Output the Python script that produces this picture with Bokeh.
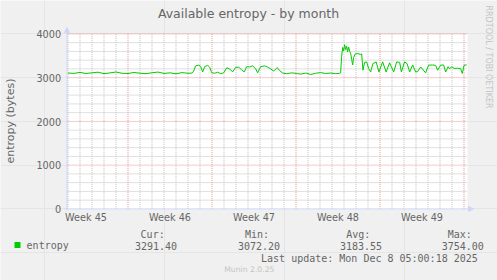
import math
from bokeh.plotting import figure
from bokeh.models import Range1d, Label, BoxAnnotation, Arrow, NormalHead
from bokeh.embed import file_html
from bokeh.resources import INLINE

# time axis: days since Monday 2025-11-03 00:00
days = [1.98, 2.5, 3.0, 3.5, 4.0, 4.5, 5.0, 5.5, 6.0, 6.5, 7.0, 7.5, 8.0, 8.5, 9.0, 9.5,
        10.0, 10.5, 11.0, 11.5, 12.0, 12.35,
        12.47, 12.64, 12.89, 13.05, 13.22, 13.39, 13.64, 13.80, 13.97, 14.22, 14.47, 14.72,
        14.97, 15.22, 15.47, 15.72, 15.97, 16.22, 16.47, 16.68, 16.89, 17.14, 17.39, 17.64,
        17.80, 18.05, 18.39, 18.64, 18.89, 19.14, 19.43, 19.64, 19.89,
        20.22, 20.64, 21.05, 21.39, 21.80, 22.22, 22.64, 23.05, 23.47, 23.89, 24.30, 24.64,
        24.72, 24.80, 24.89, 24.97, 25.05, 25.14, 25.22, 25.30, 25.39, 25.47, 25.55, 25.64,
        25.72, 25.80, 25.93, 26.14, 26.39, 26.47, 26.58,
        26.72, 26.89, 27.05, 27.22, 27.41, 27.68, 27.91, 28.22, 28.51, 28.80, 29.14, 29.39,
        29.64, 29.78, 30.05, 30.26, 30.47, 30.72, 30.97, 31.14, 31.39, 31.80, 32.05, 32.39,
        32.64, 32.80, 33.05, 33.30, 33.47, 33.68, 33.80, 33.97, 34.18, 34.47, 34.72, 34.86,
        35.01, 35.22]
entropy = [3105, 3098, 3120, 3095, 3110, 3125, 3092, 3108, 3130, 3100, 3095, 3118, 3102, 3090, 3112, 3128,
           3096, 3110, 3088, 3115, 3100, 3105,
           3150, 3270, 3285, 3260, 3130, 3250, 3280, 3240, 3115, 3100, 3125, 3090,
           3110, 3225, 3200, 3130, 3235, 3240, 3180, 3130, 3250, 3245, 3270, 3200,
           3110, 3250, 3270, 3240, 3200, 3150, 3230, 3160, 3105,
           3090, 3110, 3095, 3080, 3105, 3072.2, 3100, 3115, 3095, 3105, 3090, 3100,
           3110, 3480, 3690, 3610, 3754, 3640, 3720, 3590, 3700, 3600, 3560, 3420,
           3290, 3460, 3540, 3550, 3530, 3545, 3170,
           3350, 3360, 3210, 3130, 3320, 3360, 3130, 3360, 3130, 3340, 3130, 3360,
           3350, 3130, 3360, 3320, 3130, 3290, 3130, 3140, 3245, 3110, 3285, 3290,
           3280, 3170, 3285, 3290, 3130, 3250, 3200, 3250, 3210, 3215, 3205, 3095,
           3285, 3291.4]

week_label_pos = [3.5, 10.5, 17.5, 24.5, 31.5]
week_labels = ["Week 45", "Week 46", "Week 47", "Week 48", "Week 49"]
week_starts = [7, 14, 21, 28, 35]
day_lines = [2, 3, 4, 5, 6, 8, 9, 10, 11, 12, 13, 15, 16, 17, 18, 19, 20,
             22, 23, 24, 25, 26, 27, 29, 30, 31, 32, 33, 34]
y_major = [0, 1000, 2000, 3000, 4000]
y_major_labels = ["0", "1000", "2000", "3000", "4000"]
y_minor = [200, 400, 600, 800, 1200, 1400, 1600, 1800, 2200, 2400, 2600, 2800,
           3200, 3400, 3600, 3800]

title_text = "Available entropy - by month"
y_label = "entropy (bytes)"
series_name = "entropy"
stat_names = ["Cur:", "Min:", "Avg:", "Max:"]
stat_values = ["3291.40", "3072.20", "3183.55", "3754.00"]
last_update = "Last update: Mon Dec  8 05:00:18 2025"
watermark = "Munin 2.0.25"
side_text = "RRDTOOL / TOBI OETIKER"

# ---- layout (canvas pixels) ----
W, H = 497, 280
FL, FW = 67, 400            # plot area left / width
Y_ZERO, FH = 208.4, 175.0   # pixel row of value 0, plot area height
PX_PER_DAY = 12.0
x_start = 1.958
x_end = x_start + FW / PX_PER_DAY
y_top = 4000.0
PX_PER_UNIT = FH / y_top
BASE_SHIFT = 0.345          # rendered text sits this many em below the requested point


def xd(X):   # canvas pixel -> data x (decorations only)
    return x_start + (X - FL) / PX_PER_DAY


def yd(Y):   # canvas pixel -> data y (decorations only)
    return (Y_ZERO - Y) / PX_PER_UNIT


p = figure(width=W, height=H, output_backend="svg", toolbar_location=None,
           x_axis_location=None, y_axis_location=None,
           x_range=Range1d(xd(0), xd(W)), y_range=Range1d(yd(H), yd(0)),
           min_border=0)
p.title = None
p.border_fill_color = "#F0F0F0"
p.background_fill_color = "#F0F0F0"
p.outline_line_color = None

AX = "#CFD6F8"
FONT = "#666666"
GRID = "#c0c0c0"
MGRID = "#eb9595"

# plot canvas
p.add_layout(BoxAnnotation(left=x_start, right=x_end, bottom=0, top=y_top,
                           fill_color="#FFFFFF", fill_alpha=1.0, line_color=None,
                           level="underlay"))

# grid lines
p.segment(x0=day_lines, x1=day_lines, y0=[0] * len(day_lines), y1=[y_top] * len(day_lines),
          line_color=GRID, line_width=1, line_dash="1 1")
p.segment(x0=[x_start] * len(y_minor), x1=[x_end] * len(y_minor), y0=y_minor, y1=y_minor,
          line_color=GRID, line_width=1, line_dash="1 1")
p.segment(x0=week_starts, x1=week_starts, y0=[0] * len(week_starts), y1=[y_top] * len(week_starts),
          line_color=MGRID, line_width=1, line_dash="1 1")
p.segment(x0=[x_start] * 4, x1=[x_end] * 4, y0=y_major[1:], y1=y_major[1:],
          line_color=MGRID, line_width=1, line_dash="1 1")

# data
p.line(days, entropy, line_color="#00CC00", line_width=1)

# axes with arrows
p.add_layout(Arrow(end=NormalHead(size=5, fill_color=AX, line_color=AX, line_width=1),
                   x_start=xd(66.5), y_start=yd(210), x_end=xd(66.5), y_end=yd(27),
                   line_color=AX, line_width=1))
p.add_layout(Arrow(end=NormalHead(size=5, fill_color=AX, line_color=AX, line_width=1),
                   x_start=xd(64), y_start=0, x_end=xd(473), y_end=0,
                   line_color=AX, line_width=1))

TICK_FS = 9.7
# tick labels (data positions, small pixel offsets converted to data units)
for pos, t in zip(week_label_pos, week_labels):
    p.add_layout(Label(x=pos, y=yd(220 - BASE_SHIFT * TICK_FS), text=t, text_align="center",
                       text_baseline="alphabetic", text_font="DejaVu Sans",
                       text_font_size=f"{TICK_FS}px", text_color=FONT))
for v, t in zip(y_major, y_major_labels):
    p.add_layout(Label(x=xd(60.6), y=v - (3.6 - BASE_SHIFT * TICK_FS) / PX_PER_UNIT, text=t,
                       text_align="right", text_baseline="alphabetic", text_font="DejaVu Sans",
                       text_font_size=f"{TICK_FS}px", text_color=FONT))


def lab(X, Y, t, fs, font="DejaVu Sans", color=FONT, align="left", angle=0.0):
    # X, Y: wanted baseline point in canvas pixels (Y downward)
    d = BASE_SHIFT * fs
    if angle == 0.0:
        Y = Y - d
    elif angle > 0:
        X = X - d
    else:
        X = X + d
    p.add_layout(Label(x=X, y=H - Y, x_units="screen", y_units="screen", text=t,
                       text_font=font, text_font_size=f"{fs}px", text_color=color,
                       text_align=align, text_baseline="alphabetic", angle=angle))


lab(248, 17.5, title_text, 12.5, align="center")
lab(13.5, 120.5, y_label, 11, align="center", angle=math.pi / 2)
lab(485, 5, side_text, 8, color="#c4c4c4", angle=-math.pi / 2)

MONO = "DejaVu Sans Mono"
p.add_layout(BoxAnnotation(left=14, right=20, top=H - 241.5, bottom=H - 247.5,
                           left_units="screen", right_units="screen",
                           top_units="screen", bottom_units="screen",
                           fill_color="#00CC00", fill_alpha=1.0, line_color=None))
lab(26.1, 248.8, series_name, 10, font=MONO)
head_x = [140.1, 244.5, 345.8, 447.2]
val_right = [176.6, 279.6, 381.6, 483.3]
for hx, name in zip(head_x, stat_names):
    lab(hx, 237, name, 10, font=MONO)
for vx, v in zip(val_right, stat_values):
    lab(vx, 248.8, v, 10, font=MONO, align="right")
lab(483.3, 261, last_update, 10, font=MONO, align="right")
lab(248.8, 272, watermark, 7.7, color="#c4c4c4", align="center")

open("out.html", "w").write(file_html(p, INLINE))
